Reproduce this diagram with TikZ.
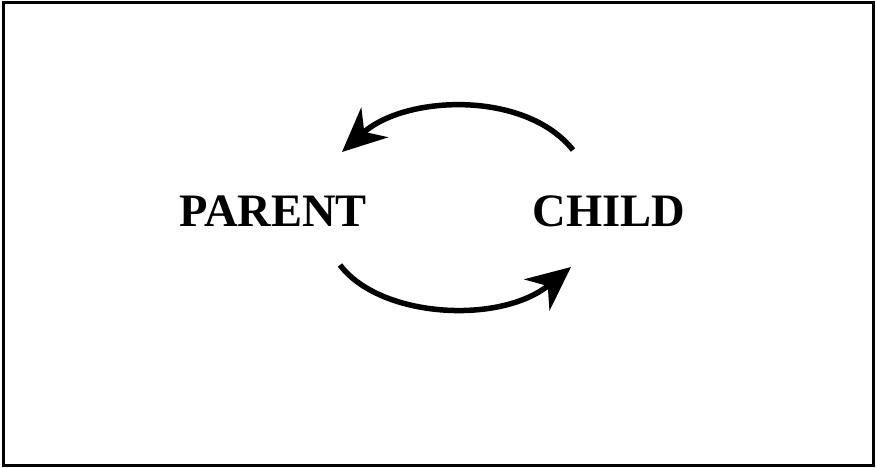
\documentclass[tikz,border=0pt]{standalone}
\usepackage{fontspec}
\setmainfont{Liberation Serif}
\usetikzlibrary{arrows.meta}
\begin{document}
\begin{tikzpicture}[x=1pt,y=-1pt,
  label/.style={font=\fontsize{46.5}{55}\selectfont\bfseries, inner sep=0pt, anchor=center},
  arc/.style={line width=5.5pt, -{Stealth[length=44pt,width=40pt,inset=14pt]}}]
\useasboundingbox (0,0) rectangle (876,468);
\draw[line width=3pt] (3,3) rectangle (873,465);
\node[label] (parent) at (273,211) {PARENT};
\node[label] (child) at (609,211) {CHILD};
\coordinate (ctop) at ([shift={(-36,-61)}]child.center);
\coordinate (ptop) at ([shift={(69,-59)}]parent.center);
\coordinate (pbot) at ([shift={(67,54)}]parent.center);
\coordinate (cbot) at ([shift={(-38,56)}]child.center);
\draw[arc] (ctop) .. controls (525,90) and (405,95) .. (ptop);
\draw[arc] (pbot) .. controls (380,318) and (500,325) .. (cbot);
\end{tikzpicture}
\end{document}
